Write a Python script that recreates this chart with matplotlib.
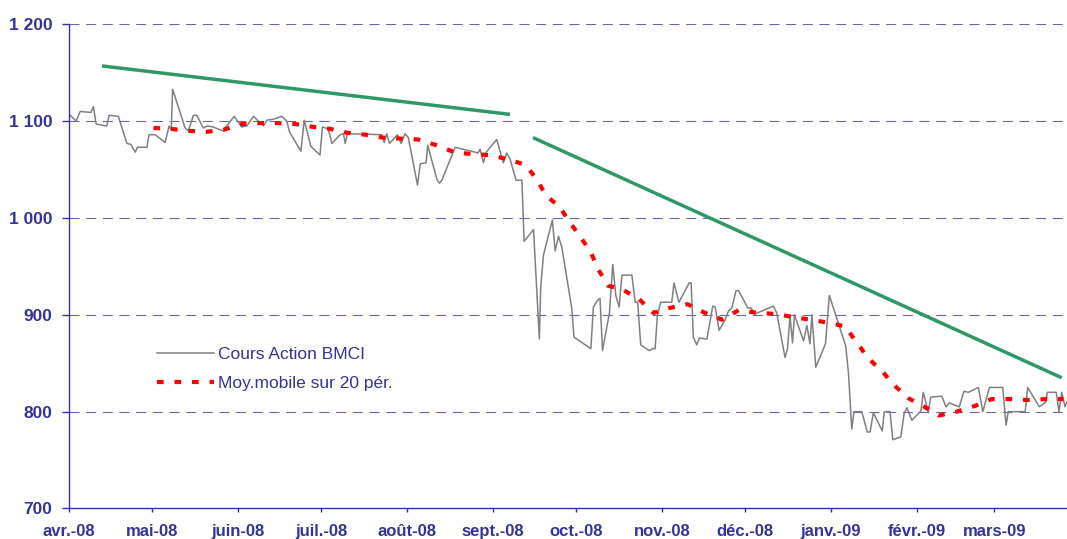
import matplotlib
matplotlib.use("Agg")
import matplotlib.pyplot as plt
import pandas as pd
from matplotlib.lines import Line2D

# ---------------- data ----------------
start_date = "2008-04-01"
price_day = [0.4, 2.6, 4.0, 7.9, 8.8, 9.8, 13.6, 14.5, 17.8, 20.9, 22.3, 23.9, 24.7, 28.1, 28.9,
             31.1, 34.7, 36.1, 36.9, 37.4, 41.9, 43.1, 44.9, 46.1, 48.5, 50.0, 52.0, 55.5, 57.5,
             59.6, 60.8, 62.4, 64.2, 66.6, 70.2, 71.4, 73.8, 76.8, 78.6, 79.6, 81.0, 83.7, 84.9,
             87.3, 90.6, 91.5, 93.6, 94.9, 97.9, 99.1, 99.7, 100.5, 112.9, 113.8, 114.7, 115.7,
             118.6, 119.9, 121.3, 122.5, 124.3, 125.8, 126.8, 128.9, 129.5, 132.8, 133.7, 134.6,
             137.0, 139.4, 146.6, 147.6, 148.4, 149.6, 150.6, 154.4, 156.8, 158.0, 159.2, 161.4,
             163.5, 164.3, 167.7, 169.8, 170.3, 171.3, 174.5, 175.5, 176.7, 177.9, 181.5, 182.3,
             188.4, 189.3, 190.8, 191.7, 192.6, 195.1, 196.3, 197.4, 198.6, 199.6, 203.2, 204.4,
             205.3, 206.4, 209.5, 210.6, 211.6, 212.4, 213.6, 217.6, 218.4, 220.2, 223.9, 224.6,
             225.4, 226.6, 227.6, 230.3, 232.4, 233.3, 234.7, 236.9, 238.1, 239.3, 240.8, 241.7,
             245.1, 246.2, 247.7, 254.3, 255.5, 258.5, 259.4, 260.3, 261.2, 261.9, 265.2, 266.4,
             267.5, 268.2, 269.6, 273.1, 274.5, 280.4, 281.4, 282.6, 283.4, 286.2, 288.2, 289.2,
             290.4, 293.6, 294.3, 296.4, 297.4, 300.3, 301.5, 302.5, 304.3, 307.6, 308.4, 310.2,
             311.1, 315.1, 316.6, 317.8, 321.4, 323.1, 324.7, 328.3, 329.9, 332.3, 337.1, 338.3,
             339.1, 345.2, 346.1, 350.3, 352.7, 353.2, 356.4, 357.4, 358.4, 359.6, 360.3]
price_val = [1106, 1100, 1110, 1109, 1115, 1097, 1095, 1106, 1105, 1077, 1076, 1068, 1073, 1073, 1086,
             1086, 1078, 1095, 1091, 1133, 1093, 1090, 1106, 1106, 1093, 1095, 1094, 1090, 1097,
             1105, 1100, 1094, 1095, 1105, 1095, 1101, 1102, 1105, 1100, 1089, 1082, 1069, 1101,
             1074, 1065, 1094, 1092, 1077, 1086, 1087, 1077, 1087, 1086, 1078, 1087, 1077,
             1086, 1077, 1087, 1083, 1056, 1034, 1056, 1057, 1075, 1040, 1036, 1039,
             1056, 1073, 1068, 1067, 1071, 1057, 1068, 1081, 1057, 1067, 1061, 1039,
             1039, 976, 988, 875, 929, 962, 998, 966, 981, 970, 907, 877,
             865, 908, 915, 917, 863, 902, 952, 920, 908, 941, 941, 913,
             913, 869, 863, 865, 865, 899, 913, 913, 933, 913, 933, 933,
             877, 869, 876, 875, 909, 908, 884, 895, 904, 907, 925, 925,
             907, 907, 901, 909, 902, 856, 865, 899, 871, 900, 873, 889,
             870, 900, 846, 870, 920, 868, 840, 782, 800, 800, 779, 779,
             799, 780, 800, 800, 771, 774, 798, 804, 791, 801, 820, 800,
             815, 816, 805, 809, 805, 821, 820, 825, 800, 825, 825, 786,
             800, 800, 825, 805, 810, 820, 820, 800, 820, 805, 810]

ma_day = [30.5, 36.8, 43.1, 49.7, 55.7, 62.4, 69.0, 75.0, 81.6, 88.2, 94.3, 100.4, 106.9, 113.3,
          119.5, 126.1, 132.8, 139.0, 145.4, 151.6, 158.0, 164.7, 168.9, 172.2, 177.0, 180.9,
          184.5, 188.3, 191.0, 194.7, 199.9, 205.9, 211.0, 216.7, 223.3, 229.6, 235.7, 241.9,
          248.3, 254.9, 260.9, 267.5, 273.9, 280.2, 284.5, 288.6, 293.8, 298.0, 303.0, 308.8,
          314.1, 320.5, 327.1, 333.1, 339.7, 346.1, 352.6, 359.0]
ma_val = [1093, 1092, 1090, 1089, 1091, 1097, 1098, 1098, 1097, 1094, 1092, 1088, 1086, 1083,
          1082, 1081, 1075, 1068, 1066, 1065, 1061, 1055, 1040, 1023, 1012, 995,
          981, 965, 947, 930, 926, 916, 902, 907, 911, 902, 895, 905,
          902, 901, 898, 895, 892, 888, 871, 855, 841, 827, 814, 805,
          796, 800, 806, 813, 813, 812, 813, 813]

trend1_day = [11.9, 159.2]
trend1_val = [1157, 1107]
trend2_day = [167.5, 358.4]
trend2_val = [1083, 835]

x_end_day = 360.3
month_labels = ["avr.-08", "mai-08", "juin-08", "juil.-08", "août-08", "sept.-08",
                "oct.-08", "nov.-08", "déc.-08", "janv.-09", "févr.-09", "mars-09"]
y_ticks = [700, 800, 900, 1000, 1100, 1200]
y_labels = ["700", "800", "900", "1 000", "1 100", "1 200"]
series_labels = ["Cours Action BMCI", "Moy.mobile sur 20 pér."]

# ---------------- styles ----------------
navy = "#333399"
grey = "#808080"
red = "#ff0000"
green = "#2e9966"
plt.rcParams["font.family"] = ["Liberation Sans", "DejaVu Sans"]

base = pd.Timestamp(start_date)
def to_dates(days):
    return base + pd.to_timedelta(days, unit="D")

fig = plt.figure(figsize=(10.67, 5.39), dpi=100)
ax = fig.add_axes([0.0647, 0.0566, 0.9353, 0.8983])

for yv in y_ticks[1:]:
    ax.axhline(yv, color=navy, lw=0.8, linestyle=(0, (9, 6)), alpha=0.75, zorder=1)

ax.plot(to_dates(price_day), price_val, color=grey, lw=1.1, zorder=2)
ax.plot(to_dates(ma_day), ma_val, color=red, lw=3.0, linestyle=(0, (1.6, 2.6)), zorder=3)
ax.plot(to_dates(trend1_day), trend1_val, color=green, lw=2.5, zorder=4, solid_capstyle="butt")
ax.plot(to_dates(trend2_day), trend2_val, color=green, lw=2.5, zorder=4, solid_capstyle="butt")

ax.set_ylim(700, 1200)
ax.set_xlim(to_dates([0])[0], to_dates([x_end_day])[0])

month_ticks = pd.date_range(start_date, periods=len(month_labels), freq="MS")
ax.set_xticks(month_ticks)
ax.set_xticklabels(month_labels, fontsize=12, fontweight="bold", color=navy)
ax.set_yticks(y_ticks)
ax.set_yticklabels(y_labels, fontsize=12.5, fontweight="bold", color=navy)

for s in ["top", "right"]:
    ax.spines[s].set_visible(False)
for s in ["left", "bottom"]:
    ax.spines[s].set_color(navy)
    ax.spines[s].set_linewidth(1.0)
ax.tick_params(axis="y", direction="out", length=5, width=1, color=navy, pad=7)
ax.tick_params(axis="x", direction="out", length=3, width=1, color=navy, pad=8)

handles = [Line2D([], [], color=grey, lw=1.1),
           Line2D([], [], color=red, lw=3.0, linestyle=(0, (1.6, 2.6)))]
leg = ax.legend(handles, series_labels, loc="upper left", bbox_to_anchor=(0.088, 0.334),
                frameon=False, fontsize=12.5, labelcolor=navy, handlelength=3.3,
                handletextpad=0.2, labelspacing=0.82, borderpad=0, borderaxespad=0)

fig.savefig("out.png", dpi=100)
